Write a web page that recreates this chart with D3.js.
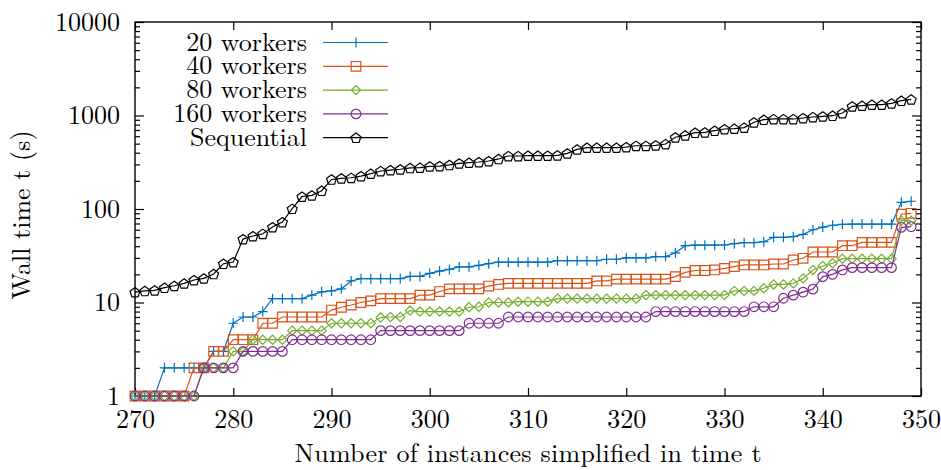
<!DOCTYPE html>
<html>
<head>
<meta charset="utf-8">
<script src="https://cdn.jsdelivr.net/npm/d3@7"></script>
<style>
  body { margin: 0; background: #fff; }
</style>
</head>
<body>
<svg id="chart" width="941" height="470"></svg>
<script>
// Number of instances simplified (x) for every sample
const instances = [
  270, 271, 272, 273, 274, 275, 276, 277, 278, 279,
  280, 281, 282, 283, 284, 285, 286, 287, 288, 289,
  290, 291, 292, 293, 294, 295, 296, 297, 298, 299,
  300, 301, 302, 303, 304, 305, 306, 307, 308, 309,
  310, 311, 312, 313, 314, 315, 316, 317, 318, 319,
  320, 321, 322, 323, 324, 325, 326, 327, 328, 329,
  330, 331, 332, 333, 334, 335, 336, 337, 338, 339,
  340, 341, 342, 343, 344, 345, 346, 347, 348, 349
];

// Wall time (s) per configuration
const workers20 = [
  1, 1, 1, 2, 2, 2, 2, 2, 3, 3,
  6, 7, 7, 8, 11, 11, 11, 11, 12, 13,
  13.3, 14, 17, 18, 18, 18, 18, 18, 19, 19,
  20.5, 21.7, 22.6, 24, 24, 25, 26, 27, 27, 27,
  27, 27, 27, 28, 28, 28, 28, 28, 29, 29,
  30, 30, 30, 31, 31, 34, 40.5, 41, 41, 41,
  41.2, 42.6, 43.6, 43.6, 44.7, 49.8, 49.8, 50.6, 53.6, 60,
  64, 67, 68.6, 69, 69, 69, 69, 69, 118, 121
];
const workers40 = [
  1, 1, 1, 1, 1, 1, 2, 2, 3, 3,
  4, 4, 4, 6, 6, 7, 7, 7, 7, 7,
  8.3, 8.9, 9.4, 10, 10.4, 11, 11, 11, 11, 12,
  12, 13.1, 14, 14, 14, 14, 15, 15.6, 16, 16,
  16, 16, 16, 16, 16, 16, 16, 17, 17, 17.8,
  17.8, 17.8, 17.8, 17.8, 17.8, 18.9, 21, 22, 22, 22.3,
  23.2, 24.2, 25.2, 25.2, 25.2, 25.8, 25.8, 28.5, 29.7, 34.7,
  34.7, 34.7, 40.5, 40.5, 44, 44, 44, 44, 88, 90
];
const workers80 = [
  1, 1, 1, 1, 1, 1, 1, 2, 2, 2,
  3, 3, 4, 4, 4, 4, 5, 5, 5, 5,
  6, 6, 6, 6, 6, 6.9, 7, 7, 8.2, 8,
  8, 8, 8, 8, 8.9, 9, 10, 10, 10, 10.2,
  10.2, 10.2, 10.2, 11, 11, 11, 11, 11, 11, 11,
  11, 11, 12, 12, 12, 12, 12, 12, 12, 12,
  12, 13.3, 13.3, 13.3, 14.2, 15.6, 15.6, 16, 18.1, 22.3,
  24.6, 26.3, 29.4, 29.4, 29.4, 29.4, 29.4, 29.4, 75, 75
];
const workers160 = [
  1, 1, 1, 1, 1, 1, 1, 2, 2, 2,
  2, 3, 3, 3, 3, 3, 4, 4, 4, 4,
  4, 4, 4, 4, 4, 5, 5, 5, 5, 5,
  5, 5, 5, 5, 6, 6, 6, 6, 7, 7,
  7, 7, 7, 7, 7, 7, 7, 7, 7, 7,
  7, 7, 7, 8, 8, 8, 8, 8, 8, 8,
  8, 8, 8, 9, 9, 9, 11.1, 12, 12.9, 13.9,
  18.9, 20, 22.3, 23.6, 23.6, 23.6, 23.6, 23.6, 63.7, 64.7
];
const sequential = [
  12.9, 13.3, 13.5, 14.4, 15.1, 16.0, 17.4, 18.1, 20.2, 26,
  27.1, 47.7, 51.4, 54.4, 64.2, 72.6, 100.7, 136, 140, 157,
  207, 213, 216, 225, 239, 255, 261, 266, 275, 277,
  286, 288, 296, 308, 313, 318, 326, 343, 369, 369,
  372, 372, 372, 375, 394, 434, 453, 453, 453, 453,
  460, 475, 475, 480, 496, 585, 614, 655, 661, 688,
  717, 724, 742, 846, 902, 918, 918, 918, 940, 964,
  980, 995, 1064, 1254, 1274, 1306, 1306, 1349, 1440, 1488
];

const seriesNames = ["20 workers", "40 workers", "80 workers", "160 workers", "Sequential"];
const seriesColors = ["#0072bd", "#d95319", "#77ac30", "#7e2f8e", "#000000"];
const seriesMarkers = ["plus", "square", "diamond", "circle", "pentagon"];
const seriesValues = [workers20, workers40, workers80, workers160, sequential];

const xTicks = [270, 280, 290, 300, 310, 320, 330, 340, 350];
const yTicks = [1, 10, 100, 1000, 10000];

const xTitle = "Number of instances simplified in time t";
const yTitle = "Wall time t (s)";

// Pick the first installed serif face; fall back to the default family otherwise.
function pickFont(candidates) {
  const ctx = document.createElement("canvas").getContext("2d");
  const sample = "Wwmil1078 Number of instances";
  const bases = ["monospace", "sans-serif"];
  const widthOf = f => { ctx.font = "40px " + f; return ctx.measureText(sample).width; };
  for (const c of candidates) {
    if (bases.some(b => widthOf(`"${c}", ${b}`) !== widthOf(b))) return `"${c}"`;
  }
  return "serif";
}
const FONT = pickFont([
  "Latin Modern Roman", "CMU Serif", "Liberation Serif", "DejaVu Serif",
  "Noto Serif", "Tinos", "Times New Roman", "Nimbus Roman", "FreeSerif", "Noto Serif CJK SC"
]) + ", serif";

// ---- layout ----
const plot = { left: 135, right: 921, top: 22, bottom: 396 };
const svg = d3.select("#chart").attr("font-family", FONT);

const x = d3.scaleLinear().domain([270, 350]).range([plot.left, plot.right]);
const y = d3.scaleLog().domain([1, 10000]).range([plot.bottom, plot.top]);

const minorY = y.ticks().filter(v => !yTicks.includes(v));

function styleAxis(g) {
  g.attr("font-family", FONT).attr("font-size", 26);
  g.select(".domain").remove();
  g.selectAll("line").attr("stroke", "#000").attr("stroke-width", 1.2);
  g.selectAll("text").attr("font-size", 26).attr("font-family", FONT);
}

// bottom axis with labels
svg.append("g")
  .attr("transform", `translate(0,${plot.bottom})`)
  .call(d3.axisBottom(x).tickValues(xTicks).tickFormat(d3.format("d")).tickSizeInner(-8).tickSizeOuter(0).tickPadding(13.5))
  .call(styleAxis);
// top axis (mirrored ticks)
svg.append("g")
  .attr("transform", `translate(0,${plot.top})`)
  .call(d3.axisTop(x).tickValues(xTicks).tickFormat("").tickSizeInner(-8).tickSizeOuter(0))
  .call(styleAxis);
// left axis major + minor
svg.append("g")
  .attr("transform", `translate(${plot.left},0)`)
  .call(d3.axisLeft(y).tickValues(yTicks).tickFormat(d3.format("d")).tickSizeInner(-9).tickSizeOuter(0).tickPadding(15))
  .call(styleAxis);
svg.append("g")
  .attr("transform", `translate(${plot.left},0)`)
  .call(d3.axisLeft(y).tickValues(minorY).tickFormat("").tickSizeInner(-5).tickSizeOuter(0))
  .call(styleAxis);
// right axis major + minor
svg.append("g")
  .attr("transform", `translate(${plot.right},0)`)
  .call(d3.axisRight(y).tickValues(yTicks).tickFormat("").tickSizeInner(-9).tickSizeOuter(0))
  .call(styleAxis);
svg.append("g")
  .attr("transform", `translate(${plot.right},0)`)
  .call(d3.axisRight(y).tickValues(minorY).tickFormat("").tickSizeInner(-5).tickSizeOuter(0))
  .call(styleAxis);

// frame
svg.append("rect")
  .attr("x", plot.left).attr("y", plot.top)
  .attr("width", plot.right - plot.left).attr("height", plot.bottom - plot.top)
  .attr("fill", "none").attr("stroke", "#000").attr("stroke-width", 1.4);

// axis titles
svg.append("text")
  .attr("x", (plot.left + plot.right) / 2).attr("y", 461.5)
  .attr("text-anchor", "middle").attr("font-size", 26)
  .attr("textLength", 467).attr("lengthAdjust", "spacing")
  .text(xTitle);
svg.append("text")
  .attr("transform", "translate(30,215) rotate(-90)")
  .attr("text-anchor", "middle").attr("font-size", 26)
  .text(yTitle);

// marker shapes
function markerPath(kind) {
  switch (kind) {
    case "plus": return "M-4.8,0H4.8M0,-5V5";
    case "square": return "M-4.8,-4.8H4.8V4.8H-4.8Z";
    case "diamond": return "M0,-4.6L4.6,0L0,4.6L-4.6,0Z";
    case "pentagon": {
      const r = 5.2;
      const pts = d3.range(5).map(i => {
        const a = -Math.PI / 2 + i * 2 * Math.PI / 5;
        return [r * Math.cos(a), r * Math.sin(a) + 0.6];
      });
      return "M" + pts.map(p => p.join(",")).join("L") + "Z";
    }
    default: return null;
  }
}
function drawMarker(g, kind, color) {
  if (kind === "circle") {
    g.append("circle").attr("r", 4.8)
      .attr("fill", "none").attr("stroke", color).attr("stroke-width", 1.2);
  } else {
    g.append("path").attr("d", markerPath(kind))
      .attr("fill", "none").attr("stroke", color).attr("stroke-width", 1.2);
  }
}

const line = d3.line().x(d => x(d[0])).y(d => y(d[1]));

const plotArea = svg.append("g");
seriesValues.forEach((vals, si) => {
  const pts = instances.map((xi, i) => [xi, vals[i]]);
  const g = plotArea.append("g");
  g.append("path").datum(pts)
    .attr("d", line).attr("fill", "none")
    .attr("stroke", seriesColors[si]).attr("stroke-width", 1.2);
  g.selectAll("g.m").data(pts).join("g")
    .attr("class", "m")
    .attr("transform", d => `translate(${x(d[0])},${y(d[1])})`)
    .each(function () { drawMarker(d3.select(this), seriesMarkers[si], seriesColors[si]); });
});

// legend
const legend = svg.append("g");
seriesNames.forEach((name, i) => {
  const ry = 42.5 + i * 23.8;
  legend.append("text")
    .attr("x", 307).attr("y", ry + 8)
    .attr("text-anchor", "end").attr("font-size", 26)
    .text(name);
  legend.append("line")
    .attr("x1", 323).attr("x2", 388).attr("y1", ry).attr("y2", ry)
    .attr("stroke", seriesColors[i]).attr("stroke-width", 1.2);
  const mg = legend.append("g").attr("transform", `translate(356,${ry})`);
  drawMarker(mg, seriesMarkers[i], seriesColors[i]);
});
</script>
</body>
</html>
